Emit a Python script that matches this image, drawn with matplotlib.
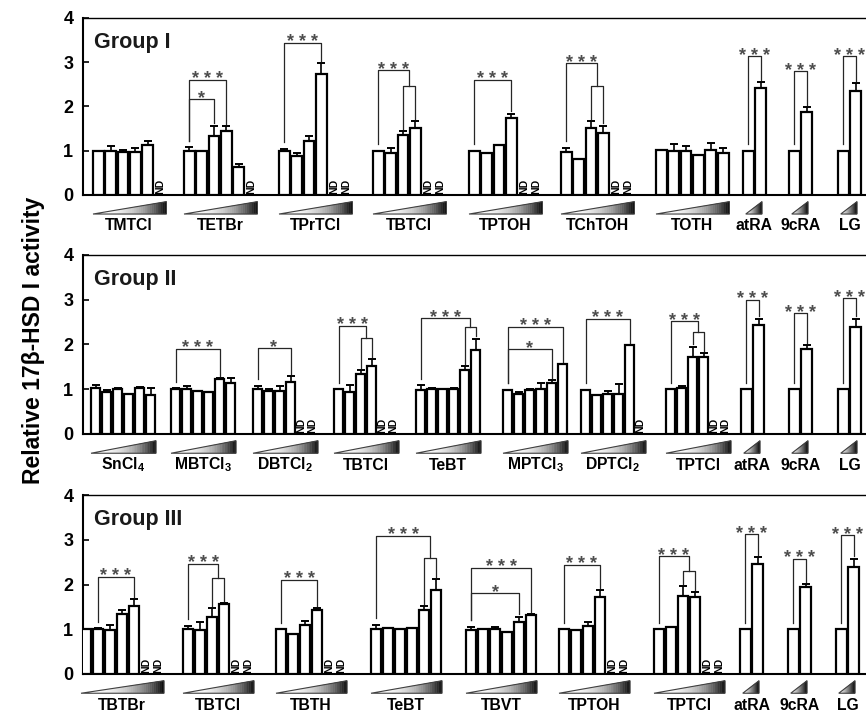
import numpy as np
import matplotlib
matplotlib.use("Agg")
import matplotlib.pyplot as plt
from matplotlib.patches import Polygon
from matplotlib.collections import PolyCollection

plt.rcParams["font.family"] = ["Liberation Sans", "DejaVu Sans"]
plt.rcParams["mathtext.fontset"] = "custom"
plt.rcParams["mathtext.rm"] = "Liberation Sans:bold"
plt.rcParams["mathtext.it"] = "Liberation Sans:bold"
plt.rcParams["mathtext.bf"] = "Liberation Sans:bold"

ND = None  # not determined

# ---------------------------------------------------------------------------
# Group I
# ---------------------------------------------------------------------------
G1_NAMES = ["TMTCl", "TETBr", "TPrTCl", "TBTCl", "TPTOH", "TChTOH", "TOTH",
            "atRA", "9cRA", "LG"]
G1_MEANS = [
    [1.00, 0.99, 0.97, 0.97, 1.13, ND],
    [0.99, 0.99, 1.33, 1.44, 0.63, ND],
    [0.99, 0.89, 1.22, 2.74, ND, ND],
    [1.00, 0.94, 1.35, 1.52, ND, ND],
    [1.00, 0.96, 1.12, 1.73, ND, ND],
    [0.97, 0.82, 1.52, 1.41, ND, ND],
    [1.01, 0.99, 1.00, 0.90, 1.01, 0.94],
    [1.00, 2.41],
    [1.00, 1.87],
    [1.00, 2.36],
]
G1_ERRS = [
    [0.00, 0.12, 0.05, 0.10, 0.10, 0],
    [0.09, 0.00, 0.24, 0.11, 0.07, 0],
    [0.05, 0.07, 0.11, 0.24, 0, 0],
    [0.00, 0.12, 0.10, 0.15, 0, 0],
    [0.00, 0.00, 0.00, 0.11, 0, 0],
    [0.10, 0.00, 0.15, 0.16, 0, 0],
    [0.00, 0.17, 0.10, 0.00, 0.17, 0.13],
    [0.00, 0.15],
    [0.00, 0.12],
    [0.00, 0.17],
]
# (label, from bar, to bar or (pair), height, inner height)
G1_SIGS = [
    [],
    [("***", 0, 3, 2.60), ("*", 0, 2, 2.18)],
    [("***", 0, 3, 3.44)],
    [("***", 0, (2, 3), 2.82, 2.46)],
    [("***", 0, 3, 2.60)],
    [("***", 0, (2, 3), 2.98, 2.47)],
    [],
    [("***", 0, 1, 3.13)],
    [("***", 0, 1, 2.80)],
    [("***", 0, 1, 3.13)],
]

# ---------------------------------------------------------------------------
# Group II
# ---------------------------------------------------------------------------
G2_NAMES = ["SnCl$_4$", "MBTCl$_3$", "DBTCl$_2$", "TBTCl", "TeBT",
            "MPTCl$_3$", "DPTCl$_2$", "TPTCl", "atRA", "9cRA", "LG"]
G2_MEANS = [
    [1.02, 0.93, 1.00, 0.89, 1.02, 0.88],
    [1.00, 1.00, 0.97, 0.93, 1.22, 1.14],
    [1.00, 0.96, 0.97, 1.17, ND, ND],
    [1.00, 0.94, 1.33, 1.53, ND, ND],
    [0.99, 1.00, 1.00, 1.00, 1.42, 1.87],
    [0.98, 0.90, 0.98, 1.00, 1.13, 1.57],
    [0.98, 0.88, 0.89, 0.89, 1.98, ND],
    [1.00, 1.03, 1.73, 1.71, ND, ND],
    [1.00, 2.43],
    [1.00, 1.90],
    [1.00, 2.39],
]
G2_ERRS = [
    [0.07, 0.05, 0.03, 0.00, 0.02, 0.14],
    [0.02, 0.08, 0.00, 0.00, 0.03, 0.11],
    [0.07, 0.04, 0.10, 0.12, 0, 0],
    [0.00, 0.15, 0.10, 0.15, 0, 0],
    [0.10, 0.02, 0.00, 0.02, 0.09, 0.26],
    [0.00, 0.04, 0.02, 0.13, 0.07, 0.00],
    [0.00, 0.00, 0.06, 0.22, 0.00, 0],
    [0.00, 0.05, 0.22, 0.10, 0, 0],
    [0.00, 0.15],
    [0.00, 0.09],
    [0.00, 0.19],
]
G2_SIGS = [
    [],
    [("***", 0, 4, 1.90)],
    [("*", 0, 3, 1.93)],
    [("***", 0, (2, 3), 2.42, 2.15)],
    [("***", 0, (4, 5), 2.59, 2.38)],
    [("***", 0, 5, 2.40), ("*", 0, 4, 1.90)],
    [("***", 0, 4, 2.57)],
    [("***", 0, (2, 3), 2.52, 2.27)],
    [("***", 0, 1, 3.00)],
    [("***", 0, 1, 2.70)],
    [("***", 0, 1, 3.03)],
]

# ---------------------------------------------------------------------------
# Group III
# ---------------------------------------------------------------------------
G3_NAMES = ["TBTBr", "TBTCl", "TBTH", "TeBT", "TBVT", "TPTOH", "TPTCl",
            "atRA", "9cRA", "LG"]
G3_MEANS = [
    [1.00, 1.00, 0.98, 1.33, 1.53, ND, ND],
    [1.00, 0.98, 1.28, 1.57, ND, ND],
    [1.00, 0.90, 1.10, 1.44, ND, ND],
    [1.00, 1.02, 1.00, 1.02, 1.42, 1.88],
    [0.99, 1.01, 1.01, 0.94, 1.17, 1.31],
    [1.00, 0.98, 1.08, 1.73, ND, ND],
    [1.00, 1.04, 1.74, 1.72, ND, ND],
    [1.00, 2.45],
    [1.00, 1.94],
    [1.00, 2.39],
]
G3_ERRS = [
    [0.00, 0.02, 0.12, 0.11, 0.15, 0, 0],
    [0.07, 0.18, 0.20, 0.02, 0, 0],
    [0.00, 0.00, 0.09, 0.03, 0, 0],
    [0.10, 0.00, 0.00, 0.00, 0.09, 0.24],
    [0.06, 0.00, 0.05, 0.00, 0.11, 0.03],
    [0.00, 0.00, 0.09, 0.14, 0, 0],
    [0.00, 0.00, 0.22, 0.11, 0, 0],
    [0.00, 0.16],
    [0.00, 0.07],
    [0.00, 0.19],
]
G3_SIGS = [
    [("***", 1, 4, 2.17)],
    [("***", 0, (2, 3), 2.46, 2.15)],
    [("***", 0, 3, 2.10)],
    [("***", 0, (4, 5), 3.09, 2.59)],
    [("***", 0, 5, 2.37), ("*", 0, 4, 1.81)],
    [("***", 0, 3, 2.44)],
    [("***", 0, (2, 3), 2.63, 2.30)],
    [("***", 0, 1, 3.12)],
    [("***", 0, 1, 2.58)],
    [("***", 0, 1, 3.10)],
]

# ---------------------------------------------------------------------------
# layout (x in pixel-like units of the panel)
# ---------------------------------------------------------------------------
G1_START = [92, 183, 278, 372, 468, 560, 655, 742, 788, 837]
G2_START = [90, 170, 252, 333, 415, 502, 580, 665, 740, 788, 837]
G3_START = [80, 182, 275, 370, 465, 558, 653, 739, 787, 835]
PITCH = [12.4, 11.0, 12.0]
REF_PITCH = 12.5
PANEL_PX = [(18, 195), (255, 434), (495, 674)]   # (y=4, y=0) pixel rows
W, H = 866, 714
X0, X1 = 83, 870
WEDGE_BOT, WEDGE_TOP = -0.43, -0.15
LABEL_Y = -0.80


def draw_wedge(ax, x0, x1, small=False):
    n = 40
    edges = np.linspace(x0, x1, n + 1)
    top = lambda x: WEDGE_BOT + (WEDGE_TOP - WEDGE_BOT) * (x - x0) / (x1 - x0)
    polys, cols = [], []
    for k in range(n):
        a, b = edges[k], edges[k + 1]
        polys.append([(a, WEDGE_BOT), (b, WEDGE_BOT), (b, top(b)), (a, top(a))])
        t = (k + 0.5) / n
        g = 1 - 0.97 * t ** (1.3 if small else 2.5)
        cols.append((g, g, g))
    pc = PolyCollection(polys, facecolors=cols, edgecolors=cols, linewidths=0.3,
                        clip_on=False)
    ax.add_collection(pc, autolim=False)
    ax.add_patch(Polygon([(x0, WEDGE_BOT), (x1, WEDGE_BOT), (x1, WEDGE_TOP)],
                         closed=True, fill=False, edgecolor="0.25", lw=0.8,
                         clip_on=False))


def draw_sig(ax, xs, tops, sig):
    label, i, j, h = sig[:4]
    kw = dict(color="0.15", lw=0.9, zorder=4)
    xl = xs[i]
    if isinstance(j, tuple):
        h2 = sig[4]
        a, b = j
        xr = (xs[a] + xs[b]) / 2
        ax.plot([xl, xl, xr, xr], [tops[i] + 0.15, h, h, h2], **kw)
        ax.plot([xs[a], xs[a], xs[b], xs[b]],
                [tops[a] + 0.05, h2, h2, tops[b] + 0.05], **kw)
    else:
        xr = xs[j]
        ax.plot([xl, xl, xr, xr], [tops[i] + 0.15, h, h, tops[j] + 0.05], **kw)
    ax.text((xl + xr) / 2, h - 0.1, " ".join(label), ha="center",
            va="baseline", fontsize=13, fontweight="bold", color="0.3")


def draw_panel(ax, title, names, means, errs, sigs, starts, pitch):
    for g, name in enumerate(names):
        vals = means[g]
        n = len(vals)
        w = pitch if n > 2 else REF_PITCH
        xs = starts[g] + w * (np.arange(n) + 0.5)
        ok = [i for i, v in enumerate(vals) if v is not None]
        hts = np.array([vals[i] for i in ok])
        er = np.array([errs[g][i] for i in ok])
        ax.bar(xs[ok], hts, width=w * 0.88, color="white", edgecolor="black",
               linewidth=1.6, zorder=3)
        has = er > 0
        if has.any():
            ax.errorbar(xs[ok][has], hts[has],
                        yerr=[np.zeros(has.sum()), er[has]], fmt="none",
                        ecolor="black", elinewidth=1.2, capsize=2.6,
                        capthick=1.4, zorder=2)
        for i, v in enumerate(vals):
            if v is None:
                ax.text(xs[i], 0.02, "ND", rotation=90, ha="center",
                        va="bottom", fontsize=7.5, fontweight="bold")
        tops = [(v or 0) + errs[g][i] for i, v in enumerate(vals)]
        for s in sigs[g]:
            draw_sig(ax, xs, tops, s)
        gx0, gx1 = starts[g], starts[g] + w * n
        if n <= 2:
            draw_wedge(ax, gx0 + 0.15 * (gx1 - gx0), gx0 + 0.8 * (gx1 - gx0),
                       small=True)
        else:
            draw_wedge(ax, gx0 + 1, gx1)
        ax.text((gx0 + gx1) / 2, LABEL_Y, name, ha="center", va="baseline",
                fontsize=11.3, fontweight="bold")

    ax.text(94, 3.33, title, ha="left", va="baseline", fontsize=15.5,
            fontweight="bold", color="0.1")
    ax.set_xlim(X0, X1)
    ax.set_ylim(0, 4)
    ax.set_yticks([0, 1, 2, 3, 4])
    ax.set_yticklabels(["0", "1", "2", "3", "4"], fontsize=13, fontweight="bold")
    ax.set_xticks([])
    ax.tick_params(axis="y", direction="in", length=4, width=1.2, pad=7)
    ax.spines["right"].set_visible(False)
    ax.spines["top"].set_linewidth(1.0)
    ax.spines["left"].set_linewidth(1.5)
    ax.spines["bottom"].set_linewidth(1.5)


fig = plt.figure(figsize=(W / 100, H / 100), dpi=100)
panels = [
    ("Group I", G1_NAMES, G1_MEANS, G1_ERRS, G1_SIGS, G1_START),
    ("Group II", G2_NAMES, G2_MEANS, G2_ERRS, G2_SIGS, G2_START),
    ("Group III", G3_NAMES, G3_MEANS, G3_ERRS, G3_SIGS, G3_START),
]
for p, (title, names, means, errs, sigs, starts) in enumerate(panels):
    top_px, bot_px = PANEL_PX[p]
    ax = fig.add_axes([X0 / W, 1 - bot_px / H, (X1 - X0) / W,
                       (bot_px - top_px) / H])
    draw_panel(ax, title, names, means, errs, sigs, starts, PITCH[p])

fig.text(34 / W, 1 - 340 / H, "Relative 17\u03b2-HSD I activity", rotation=90,
         ha="center", va="center", fontsize=16.5, fontweight="bold")

fig.savefig("out.png", dpi=100)
